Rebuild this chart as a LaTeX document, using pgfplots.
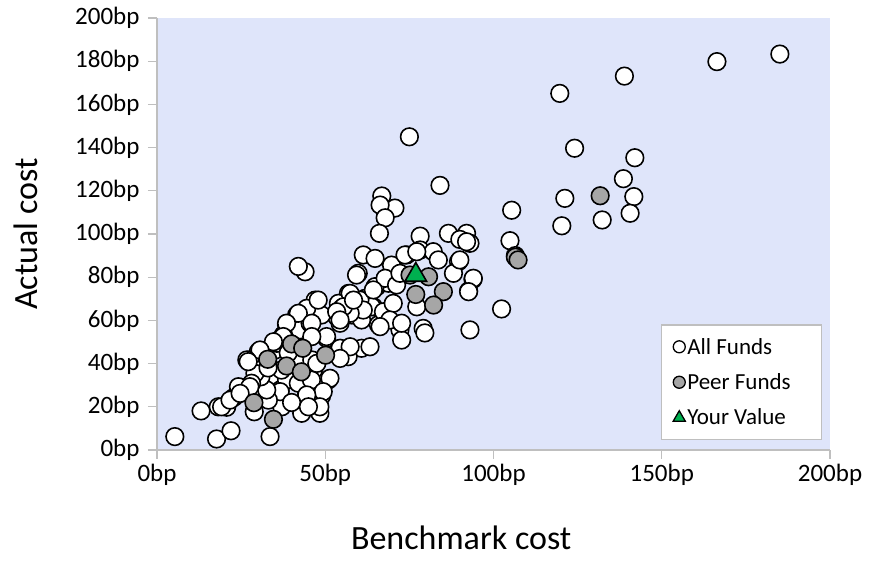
\documentclass[border=0pt]{standalone}
\usepackage{pgfplots}
\pgfplotsset{compat=1.18}
\usepackage{fontspec}
\setmainfont{Carlito}
\definecolor{bgc}{RGB}{223,229,250}
\definecolor{peer}{RGB}{166,166,166}
\definecolor{yv}{RGB}{0,176,80}
\definecolor{axc}{RGB}{191,191,191}
\begin{document}
\begin{tikzpicture}
\begin{axis}[
  scale only axis, width=673pt, height=432pt,
  xmin=0, xmax=200, ymin=0, ymax=200,
  xtick={0,50,100,150,200},
  xticklabels={0bp,50bp,100bp,150bp,200bp},
  ytick={0,20,40,60,80,100,120,140,160,180,200},
  yticklabels={0bp,20bp,40bp,60bp,80bp,100bp,120bp,140bp,160bp,180bp,200bp},
  axis background/.style={fill=bgc},
  axis x line*=bottom, axis y line*=left,
  axis line style={axc, line width=1.2pt, -},
  tick align=outside, major tick length=9pt,
  tick style={axc, line width=1.2pt},
  tick label style={font=\fontsize{25}{29}\selectfont},
  yticklabel style={xshift=-5pt},
  xticklabel style={yshift=-2pt},
  xlabel={Benchmark cost}, ylabel={Actual cost},
  label style={font=\fontsize{34}{39}\selectfont},
  xlabel style={at={(axis description cs:0.452,-0.203)}, anchor=center},
  ylabel style={at={(axis description cs:-0.195,0.5)}, anchor=center},
  legend style={at={(axis description cs:0.988,0.023)}, anchor=south east,
    draw=axc, line width=1.2pt, fill=white, font=\fontsize{23}{27}\selectfont,
    row sep=14pt, inner xsep=12pt, inner ysep=11pt},
  legend cell align=left,
  legend image code/.code={\draw[#1] plot coordinates {(0pt,0pt)};},
]
\coordinate (O) at (rel axis cs:0,0);
% All Funds
\addplot[only marks, mark=*, mark size=8.8pt, draw=black, fill=white, line width=1.6pt,
  legend image post style={mark size=6pt, line width=1.3pt}] coordinates {
(185.1,183.3)(166.4,179.8)(138.9,173.1)(119.7,165.1)(124.1,139.7)(142.0,135.3)(138.6,125.6)
(121.2,116.5)(141.7,117.3)(140.6,109.6)(132.3,106.5)(120.3,103.8)(105.4,111.0)(104.9,96.9)
(106.5,90.0)(102.4,65.3)(93.0,55.6)(93.9,79.0)(92.6,73.6)(75.0,145.0)(84.1,122.5)
(66.8,117.6)(70.7,112.0)(66.3,113.4)(67.8,107.5)(66.1,100.3)(78.2,99.0)(86.6,100.3)
(92.0,100.3)(93.0,95.7)(90.0,97.5)(92.0,96.4)(78.2,92.6)(82.1,91.8)(74.2,90.3)(83.6,88.0)
(89.6,87.2)(88.1,81.8)(90.0,88.0)(94.0,79.5)(92.6,73.3)(69.7,85.6)(73.7,90.3)(77.2,91.8)
(61.3,90.3)(64.8,88.7)(65.3,75.6)(68.8,77.2)(71.2,78.7)(64.3,66.3)(67.8,62.5)(77.2,66.3)
(79.1,56.3)(79.6,54.2)(72.2,55.6)(72.7,50.9)(65.8,58.0)(59.8,81.8)(64.8,75.6)(67.8,79.5)
(71.2,76.4)(72.2,81.8)(56.9,72.5)(57.9,67.9)(61.8,70.2)(63.8,66.3)(67.3,64.0)(70.2,67.9)
(69.2,60.2)(72.7,58.7)(66.3,57.1)(53.9,67.9)(53.4,61.7)(57.9,62.5)(60.8,60.2)(59.3,81.0)
(60.3,69.4)(57.4,72.5)(58.4,65.6)(61.3,64.8)(54.9,65.6)(44.0,82.5)(42.0,85.0)
(47.0,69.4)(48.9,62.5)(41.5,62.5)(38.5,57.9)(42.5,55.6)(45.5,58.7)(50.4,51.7)(54.4,58.7)
(57.4,63.3)(55.4,66.3)(58.4,69.4)(60.8,47.1)(63.3,47.8)(56.8,43.2)(50.9,32.4)(48.9,25.0)
(48.4,17.0)(43.0,17.0)(37.1,20.0)(33.6,6.2)(44.5,26.2)(41.5,31.6)(34.6,33.9)(30.6,33.9)
(36.6,27.8)(47.0,32.4)(46.5,37.0)(35.1,46.3)(30.1,45.5)(27.6,41.7)(37.5,53.2)(35.6,49.4)
(42.5,41.7)(46.0,41.7)(54.4,47.1)(64.3,74.1)(53.4,64.0)(44.5,65.6)(42.0,63.3)(38.5,58.7)
(46.0,58.7)(54.4,60.2)(50.4,52.5)(57.4,47.8)(46.0,52.5)(37.5,52.5)(34.6,50.1)(30.6,46.3)
(26.7,41.7)(30.6,37.0)(30.6,29.3)(38.5,32.4)(42.0,30.9)(45.9,32.4)(51.4,33.2)(49.4,27.0)
(54.4,42.4)(47.5,40.1)(36.6,27.0)(44.5,25.5)(25.0,29.0)(47.9,69.4)
(5.3,6.2)(13.1,18.1)(17.7,5.1)(22.0,8.9)(18.2,20.0)(20.7,19.8)(22.8,24.3)(23.7,25.5)
(24.7,27.8)(28.9,17.7)(33.1,23.1)(32.6,27.8)(30.9,33.9)(29.1,35.5)(27.1,40.9)(28.1,30.9)
(24.2,29.3)(19.2,20.0)(21.7,23.1)(27.6,29.3)(24.7,26.2)(48.4,20.0)(40.0,22.0)(45.0,20.0)
(37.0,37.0)(39.0,45.0)(33.0,38.0)
};
\addlegendentry{\makebox[120pt][l]{All Funds}}
% Peer Funds
\addplot[only marks, mark=*, mark size=8.8pt, draw=black, fill=peer, line width=1.6pt,
  legend image post style={mark size=6pt, line width=1.3pt}] coordinates {
(28.8,21.9)(34.6,14.2)(32.9,42.0)(38.5,38.9)(40.0,49.1)(43.3,47.1)(42.9,36.2)(50.1,43.9)
(75.2,81.0)(76.9,72.0)(80.7,80.2)(85.1,73.3)(82.2,67.1)(106.5,89.3)(107.3,88.0)(131.7,117.7)
};
\addlegendentry{Peer Funds}
% Your Value
\addplot[only marks, mark=triangle*, mark size=12.5pt, draw=black, fill=yv, line width=1.6pt,
  legend image post style={mark size=7pt, line width=1.3pt}] coordinates {
(76.9,81.0)
};
\addlegendentry{Your Value}
\end{axis}
\path ([shift={(-157pt,-111pt)}]O) rectangle ([shift={(714pt,450pt)}]O);
\end{tikzpicture}
\end{document}
